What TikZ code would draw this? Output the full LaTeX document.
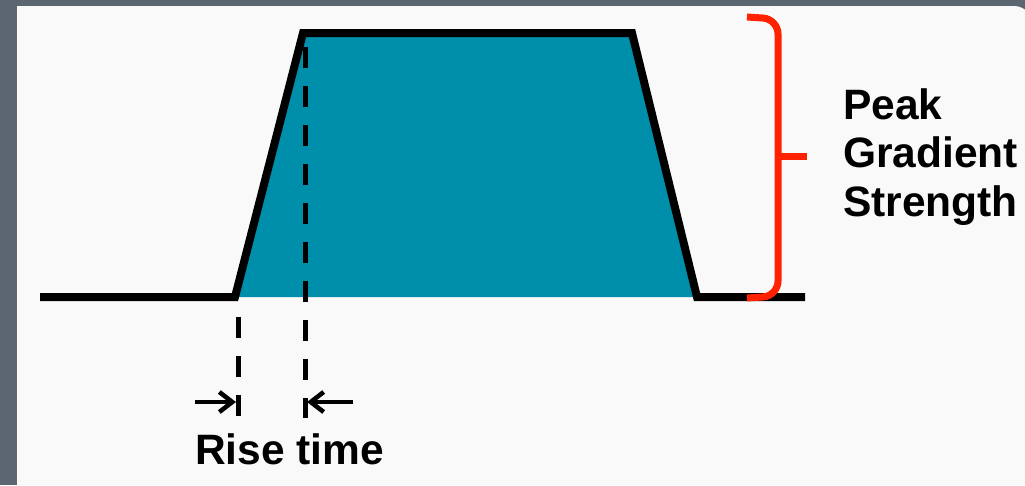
\documentclass[tikz,border=0pt]{standalone}
\usepackage{fontspec}
\setmainfont{Liberation Sans}
\usetikzlibrary{arrows.meta}
\definecolor{framegray}{HTML}{5B6670}
\definecolor{panelwhite}{HTML}{F9F9F9}
\definecolor{pulseteal}{HTML}{008FAA}
\definecolor{bracered}{HTML}{FF2200}

\begin{document}
\begin{tikzpicture}[x=1pt, y=-1pt,
    pulse/.style={line width=8pt, line join=miter},
    guide/.style={line width=5pt, dash pattern=on 21pt off 18pt},
    marker/.style={line width=3.5pt, -{Straight Barb[length=13pt,width=20pt,line width=4.5pt]}},
    txt/.style={font=\bfseries\fontsize{42.5}{48.5}\selectfont, inner sep=0pt, align=left}]
    \useasboundingbox (0,0) rectangle (1025,485);

    % frame and panel
    \fill[framegray] (0,0) rectangle (1025,485);
    \fill[panelwhite] (17,485) -- (17,6) {[rounded corners=18pt] -- (1032,6) -- (1032,60)} -- (1032,485) -- cycle;

    % trapezoid corners
    \coordinate (start) at (40,297);
    \coordinate (riseA) at (235,297);
    \coordinate (riseB) at (303,33);
    \coordinate (fallA) at (632,33);
    \coordinate (fallB) at (697,297);
    \coordinate (stop) at (805,297);

    % gradient pulse
    \fill[pulseteal] (riseA) -- (riseB) -- (fallA) -- (fallB) -- cycle;
    \draw[pulse] (start) -- (riseA) -- (riseB) -- (fallA) -- (fallB) -- (stop);

    % rise time guides
    \coordinate (guideLtop) at (238,317);
    \coordinate (guideLbot) at (238,418);
    \coordinate (guideRtop) at (305,47);
    \coordinate (guideRbot) at (305,418);
    \draw[guide] (guideLtop) -- (guideLbot);
    \draw[guide] (guideRtop) -- (guideRbot);

    \coordinate (arrowLfrom) at (195,402);
    \coordinate (arrowLto) at (236,402);
    \coordinate (arrowRfrom) at (353,402);
    \coordinate (arrowRto) at (307,402);
    \draw[marker] (arrowLfrom) -- (arrowLto);
    \draw[marker] (arrowRfrom) -- (arrowRto);
    \node[txt, anchor=base west] (risetime) at (195,464) {Rise time};

    % peak brace
    \draw[bracered, line width=7pt, rounded corners=15pt] (747,17) -- (778,19) -- (778,296) -- (747,298);
    \coordinate (braceMid) at (778,156);
    \coordinate (braceTip) at (807,156);
    \draw[bracered, line width=7pt] (braceMid) -- (braceTip);
    \node[txt, anchor=north west] (peak) at (843,88) {Peak\\Gradient\\Strength};
\end{tikzpicture}
\end{document}
